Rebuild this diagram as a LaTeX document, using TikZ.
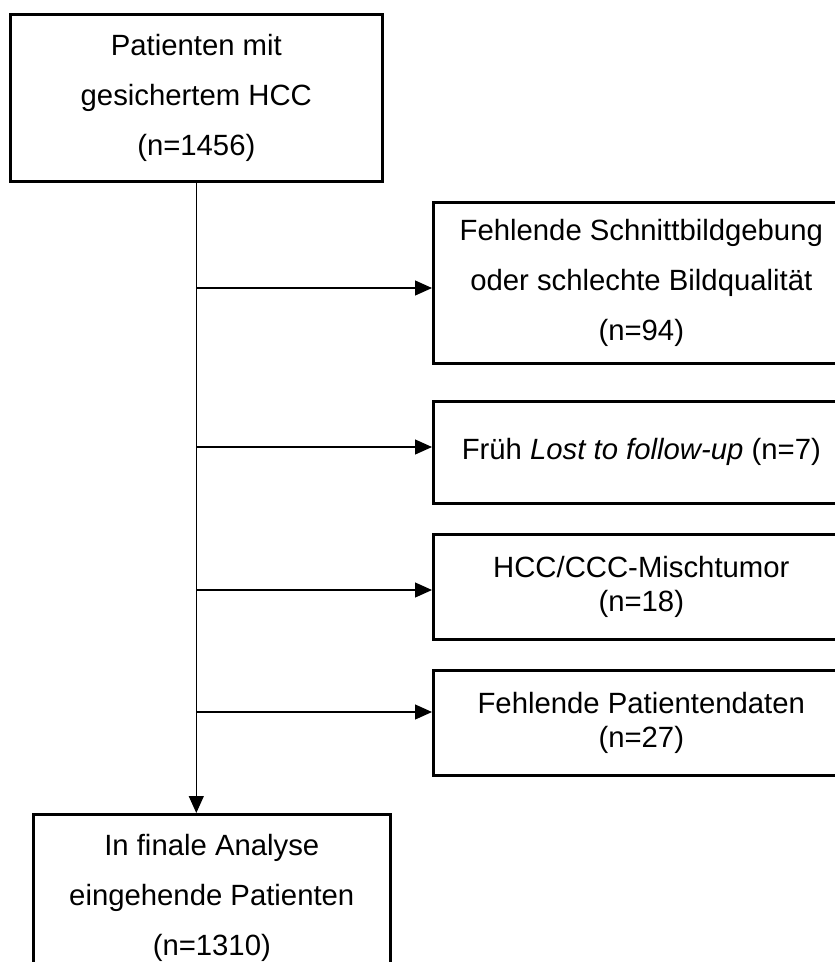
\documentclass[tikz,border=0pt]{standalone}
\usepackage{fontspec}
\setmainfont{Liberation Sans}
\usetikzlibrary{arrows.meta}

\begin{document}
\begin{tikzpicture}[->,>={Triangle[length=17pt,width=15pt]},x=1pt,y=-1pt,line width=1.2pt]
  \tikzstyle{box}=[draw=black,line width=2.6pt,rectangle,anchor=north west,align=center,inner sep=0pt,font=\fontsize{29.3}{50}\selectfont]
  \tikzstyle{tight}=[font=\fontsize{29.3}{34}\selectfont]
\useasboundingbox (0,0) rectangle (835,962);
\clip (0,0) rectangle (835,962);
\fill[white] (0,0) rectangle (835,962);
% main column
\node[box,minimum width=372,minimum height=167] (hcc) at (9,13) {Patienten mit\\gesichertem HCC\\(n=1456)};
\node[box,minimum width=357,minimum height=168] (final) at (32,813) {In finale Analyse\\eingehende Patienten\\(n=1310)};
% exclusions
\node[box,minimum width=416,minimum height=161] (ex1) at (432,201) {Fehlende Schnittbildgebung\\oder schlechte Bildqualit\"at\\(n=94)};
\node[box,minimum width=416,minimum height=102] (ex2) at (432,400) {\raisebox{6pt}{Fr\"uh \textit{Lost to follow-up} (n=7)}};
\node[box,tight,minimum width=416,minimum height=105] (ex3) at (432,533) {HCC/CCC-Mischtumor\\(n=18)};
\node[box,tight,minimum width=416,minimum height=105] (ex4) at (432,669) {Fehlende Patientendaten\\(n=27)};
\coordinate (j1) at (hcc.south |- 0,288);
\coordinate (j2) at (hcc.south |- 0,447);
\coordinate (j3) at (hcc.south |- 0,590);
\coordinate (j4) at (hcc.south |- 0,712);
\path
(hcc.south) edge (hcc.south |- final.north)
(j1) edge (j1 -| ex1.west)
(j2) edge (j2 -| ex2.west)
(j3) edge (j3 -| ex3.west)
(j4) edge (j4 -| ex4.west);
\end{tikzpicture}
\end{document}
